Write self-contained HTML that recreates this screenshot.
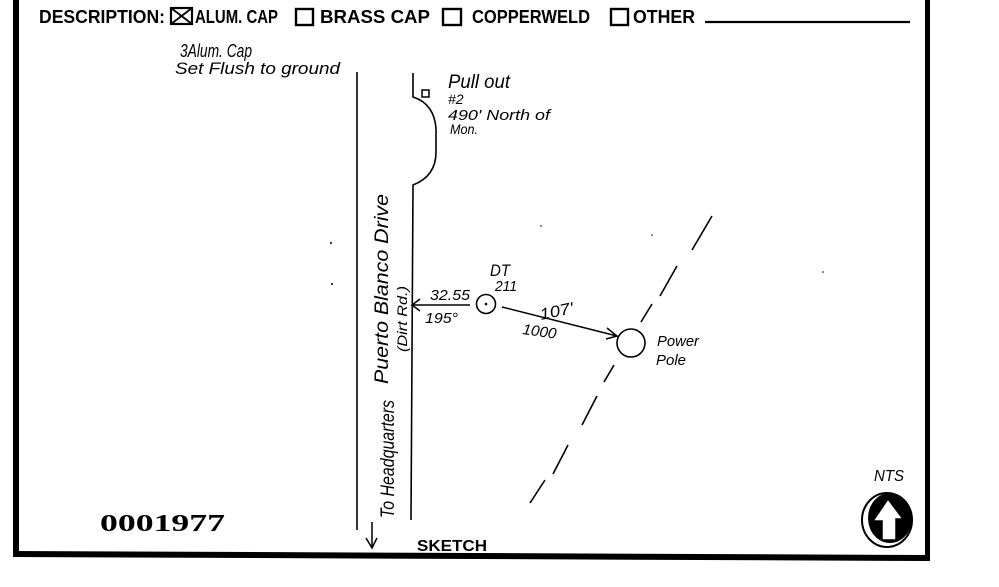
<!DOCTYPE html>
<html><head><meta charset="utf-8"><style>
html,body{margin:0;padding:0;background:#fff;}
svg{display:block;}
.lbl{font-family:"Liberation Sans",sans-serif;font-weight:bold;fill:#000;}
.hw{font-family:"Liberation Sans",sans-serif;font-style:italic;fill:#000;}
</style></head><body>
<svg width="999" height="587" viewBox="0 0 999 587" xmlns="http://www.w3.org/2000/svg">
<rect width="999" height="587" fill="#fff"/>
<!-- frame -->
<rect x="13" y="0" width="6" height="557" fill="#000"/>
<rect x="925" y="0" width="5" height="560" fill="#000"/>
<polygon points="13,551 930,555 930,561 13,557" fill="#000"/>

<!-- header -->
<text class="lbl" x="39" y="23" font-size="18" textLength="126" lengthAdjust="spacingAndGlyphs">DESCRIPTION:</text>
<rect x="171" y="8" width="21" height="16" fill="none" stroke="#000" stroke-width="2.2"/>
<line x1="171" y1="8" x2="192" y2="24" stroke="#000" stroke-width="1.8"/>
<line x1="192" y1="8" x2="171" y2="24" stroke="#000" stroke-width="1.8"/>
<text class="lbl" x="195" y="23" font-size="18" textLength="83" lengthAdjust="spacingAndGlyphs">ALUM. CAP</text>
<rect x="296" y="9" width="17" height="16" fill="none" stroke="#000" stroke-width="2.4"/>
<text class="lbl" x="320" y="23" font-size="18" textLength="110" lengthAdjust="spacingAndGlyphs">BRASS CAP</text>
<rect x="443" y="9" width="18" height="16" fill="none" stroke="#000" stroke-width="2.4"/>
<text class="lbl" x="472" y="23" font-size="18" textLength="118" lengthAdjust="spacingAndGlyphs">COPPERWELD</text>
<rect x="611" y="9" width="17" height="16" fill="none" stroke="#000" stroke-width="2.4"/>
<text class="lbl" x="633" y="23" font-size="18" textLength="62" lengthAdjust="spacingAndGlyphs">OTHER</text>
<line x1="705" y1="22" x2="910" y2="22" stroke="#000" stroke-width="2.2"/>

<!-- handwritten notes -->
<text class="hw" x="180" y="57" font-size="18" textLength="72" lengthAdjust="spacingAndGlyphs">3Alum. Cap</text>
<text class="hw" x="175" y="74" font-size="17" textLength="165" lengthAdjust="spacingAndGlyphs">Set Flush to ground</text>

<!-- road -->
<path d="M357,72 L357,530" stroke="#000" stroke-width="1.6" fill="none"/>
<path d="M413,73 L413,97 C426,101 437,112 436,135 L436,152 C436,170 426,180 413,185 L411,520" stroke="#000" stroke-width="1.6" fill="none"/>
<rect x="422" y="90" width="7" height="7" fill="none" stroke="#000" stroke-width="1.5"/>
<text class="hw" x="448" y="88" font-size="19" textLength="62" lengthAdjust="spacingAndGlyphs">Pull out</text>
<text class="hw" x="448" y="104" font-size="14">#2</text>
<text class="hw" x="448" y="120" font-size="15" textLength="102" lengthAdjust="spacingAndGlyphs">490' North of</text>
<text class="hw" x="450" y="134" font-size="14" textLength="28" lengthAdjust="spacingAndGlyphs">Mon.</text>

<text class="hw" font-size="19" transform="translate(388,384) rotate(-90)" textLength="190" lengthAdjust="spacingAndGlyphs">Puerto Blanco Drive</text>
<text class="hw" font-size="14" transform="translate(407,352) rotate(-90)" textLength="66" lengthAdjust="spacingAndGlyphs">(Dirt Rd.)</text>
<text class="hw" font-size="19" transform="translate(394,518) rotate(-90)" textLength="118" lengthAdjust="spacingAndGlyphs">To Headquarters</text>
<path d="M372,522 L372,548 M366,538 L372,548 L377,538" stroke="#000" stroke-width="1.5" fill="none"/>

<!-- DT point -->
<circle cx="486" cy="304" r="9.5" fill="none" stroke="#000" stroke-width="1.6"/>
<circle cx="486" cy="304" r="1.3" fill="#000"/>
<text class="hw" x="490" y="276" font-size="17" textLength="20" lengthAdjust="spacingAndGlyphs">DT</text>
<text class="hw" x="495" y="291" font-size="15" textLength="22" lengthAdjust="spacingAndGlyphs">211</text>
<path d="M470,305 L412,305 M420,299 L412,305 L420,311" stroke="#000" stroke-width="1.5" fill="none"/>
<text class="hw" x="430" y="300" font-size="15" textLength="40" lengthAdjust="spacingAndGlyphs">32.55</text>
<text class="hw" x="425" y="323" font-size="15" textLength="33" lengthAdjust="spacingAndGlyphs">195°</text>
<path d="M502,307 L617,336 M607,328 L617,336 L606,339" stroke="#000" stroke-width="1.5" fill="none"/>
<text class="hw" font-size="16" transform="translate(541,320) rotate(-12)" textLength="34" lengthAdjust="spacingAndGlyphs">107'</text>
<text class="hw" font-size="15" transform="translate(522,334) rotate(8)" textLength="34" lengthAdjust="spacingAndGlyphs">1000</text>
<circle cx="631" cy="343" r="14" fill="none" stroke="#000" stroke-width="1.6"/>
<text class="hw" x="657" y="346" font-size="15" textLength="42" lengthAdjust="spacingAndGlyphs">Power</text>
<text class="hw" x="656" y="365" font-size="15" textLength="30" lengthAdjust="spacingAndGlyphs">Pole</text>

<!-- dashed line -->
<g stroke="#000" stroke-width="1.6">
<line x1="712" y1="216" x2="692" y2="250"/>
<line x1="677" y1="266" x2="660" y2="296"/>
<line x1="652" y1="304" x2="641" y2="322"/>
<line x1="614" y1="365" x2="604" y2="382"/>
<line x1="597" y1="396" x2="582" y2="425"/>
<line x1="568" y1="445" x2="553" y2="474"/>
<line x1="545" y1="480" x2="530" y2="503"/>
</g>

<!-- specks -->
<circle cx="331" cy="243" r="1" fill="#000"/>
<circle cx="332" cy="284" r="1" fill="#000"/>
<circle cx="541" cy="226" r="0.8" fill="#000"/>
<circle cx="652" cy="235" r="0.8" fill="#000"/>
<circle cx="823" cy="272" r="0.8" fill="#000"/>

<!-- footer -->
<text x="100" y="531" font-family="Liberation Serif, serif" font-weight="bold" font-size="24" textLength="125" lengthAdjust="spacingAndGlyphs">0001977</text>
<text class="lbl" x="417" y="551" font-size="16" textLength="70" lengthAdjust="spacingAndGlyphs">SKETCH</text>
<text class="hw" x="874" y="481" font-size="16" textLength="30" lengthAdjust="spacingAndGlyphs">NTS</text>

<!-- north arrow -->
<ellipse cx="887" cy="520" rx="25" ry="27" fill="#fff" stroke="#000" stroke-width="2"/>
<ellipse cx="890" cy="518" rx="22" ry="25" fill="#000"/>
<polygon points="888,499 903,519 896,519 896,540 882,540 882,521 873,521" fill="#fff" stroke="#000" stroke-width="1.5"/>
</svg>
</body></html>
